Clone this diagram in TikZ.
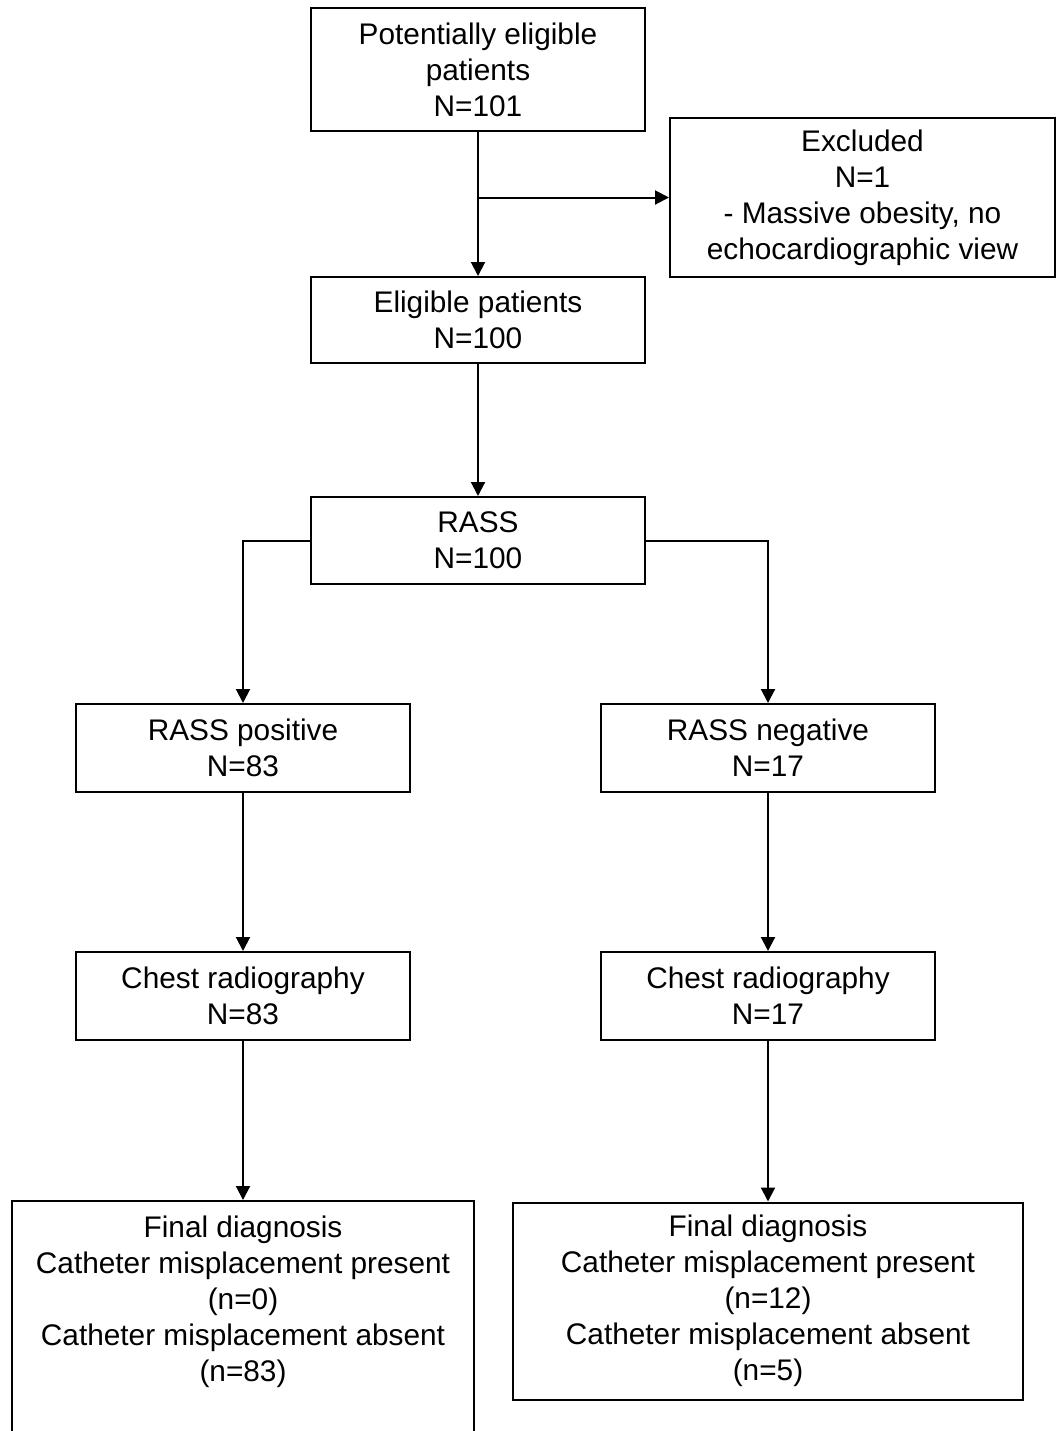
\documentclass[tikz,border=0pt]{standalone}
\usepackage{fontspec}
\setmainfont{Liberation Sans}
\usepackage{tikz}
\usetikzlibrary{arrows.meta, positioning}

\begin{document}
\begin{tikzpicture}[x=0.5pt, y=-0.5pt, line width=1pt,
    box/.style={rectangle, draw=black, align=center, inner sep=0pt, minimum width=167pt, minimum height=44pt, font=\fontsize{14.9}{18}\selectfont},
    arr/.style={-{Triangle[length=7pt, width=7pt]}}]
        \useasboundingbox (0,0) rectangle (1061,1431);
        \clip (0,0) rectangle (1061,1431);

        % Top of the flow
        \node[box, minimum height=61.5pt] at (478,69.5) (pot) {Potentially eligible\\patients\\N=101};
        \node[box, minimum width=192.5pt, minimum height=79.5pt] at (862.5,197.5) (excl) {Excluded\\N=1\\- Massive obesity, no\\echocardiographic view};
        \node[box, minimum height=43pt] at (478,320) (elig) {Eligible patients\\N=100};
        \node[box, minimum height=43.5pt] at (478,540.5) (rass) {RASS\\N=100};

        % Two branches
        \node[box] at (243,748) (pos) {RASS positive\\N=83};
        \node[box] at (768,748) (neg) {RASS negative\\N=17};
        \node[box] at (243,996) (chestL) {Chest radiography\\N=83};
        \node[box] at (768,996) (chestR) {Chest radiography\\N=17};

        % Final diagnosis (left box runs off the page)
        \node[box, anchor=north, minimum width=231pt, inner ysep=7.5pt, text depth=150pt] at (243,1200) (finL) {Final diagnosis\\Catheter misplacement present\\(n=0)\\Catheter misplacement absent\\(n=83)};
        \node[box, minimum width=255pt, minimum height=98.5pt] at (768,1301) (finR) {Final diagnosis\\Catheter misplacement present\\(n=12)\\Catheter misplacement absent\\(n=5)};

        % Connectors
        \coordinate (split) at (pot.south |- excl.west);
        \draw[arr] (pot) -- (elig);
        \draw[arr] (split) -- (excl.west);
        \draw[arr] (elig) -- (rass);
        \draw[arr] (rass.west) -| (pos.north);
        \draw[arr] (rass.east) -| (neg.north);
        \draw[arr] (pos) -- (chestL);
        \draw[arr] (neg) -- (chestR);
        \draw[arr] (chestL) -- (chestL |- finL.north);
        \draw[arr] (chestR) -- (finR);

    \end{tikzpicture}
\end{document}
